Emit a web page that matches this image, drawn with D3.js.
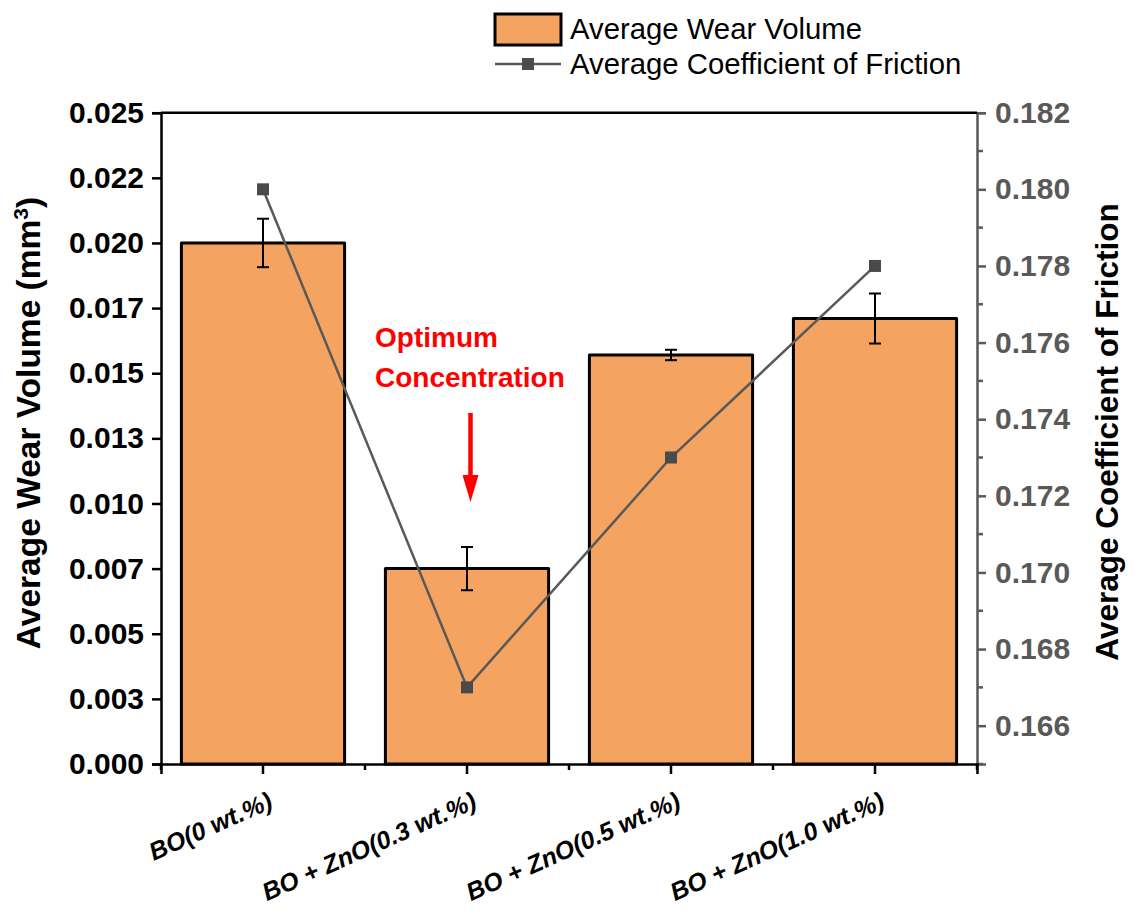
<!DOCTYPE html>
<html>
<head>
<meta charset="utf-8">
<script src="https://cdn.jsdelivr.net/npm/d3@7"></script>
<style>
  html, body { margin: 0; padding: 0; background: #fff; }
  svg { display: block; font-family: "Liberation Sans", Arial, sans-serif; }
</style>
</head>
<body>
<svg id="chart" width="1141" height="914"></svg>
<script>
// Sample groups
const categories = ["BO(0 wt.%)", "BO + ZnO(0.3 wt.%)", "BO + ZnO(0.5 wt.%)", "BO + ZnO(1.0 wt.%)"];
// Average wear volume (mm^3) and its error
const wearVolume = [0.0200, 0.0075, 0.0157, 0.0171];
const wearError  = [0.00093, 0.00083, 0.0002, 0.00096];
// Average coefficient of friction
const friction = [0.180, 0.167, 0.173, 0.178];
// Left axis tick values and their printed labels
const wearTicks = [0, 0.0025, 0.005, 0.0075, 0.01, 0.0125, 0.015, 0.0175, 0.02, 0.0225, 0.025];
const wearTickLabels = ["0.000", "0.003", "0.005", "0.007", "0.010", "0.013", "0.015", "0.017", "0.020", "0.022", "0.025"];
// Right axis ticks
const frictionTicks = [0.166, 0.168, 0.170, 0.172, 0.174, 0.176, 0.178, 0.180, 0.182];
const frictionMinor = [0.165, 0.167, 0.169, 0.171, 0.173, 0.175, 0.177, 0.179, 0.181];

const svg = d3.select("#chart");
const pLeft = 161, pRight = 977, pTop = 112.7, pBottom = 764;
const barFill = "#F4A460", lineColor = "#595959", markColor = "#4a4a4a";

const x = d3.scaleBand().domain(categories).range([pLeft, pRight]).paddingInner(0.2).paddingOuter(0.1);
const yL = d3.scaleLinear().domain([0, 0.025]).range([pBottom, pTop]);
const yR = d3.scaleLinear().domain([0.165, 0.182]).range([pBottom, pTop]);

// Bars
svg.append("g").selectAll("rect").data(categories).join("rect")
  .attr("x", d => x(d)).attr("y", (d, i) => yL(wearVolume[i]))
  .attr("width", x.bandwidth()).attr("height", (d, i) => yL(0) - yL(wearVolume[i]))
  .attr("fill", barFill).attr("stroke", "#000").attr("stroke-width", 3)
  .attr("stroke-linejoin", "round");

// Error bars
const eb = svg.append("g").attr("stroke", "#000").attr("stroke-width", 2);
categories.forEach((c, i) => {
  const cx = x(c) + x.bandwidth() / 2;
  const y1 = yL(wearVolume[i] + wearError[i]), y2 = yL(wearVolume[i] - wearError[i]);
  eb.append("line").attr("x1", cx).attr("x2", cx).attr("y1", y1).attr("y2", y2);
  eb.append("line").attr("x1", cx - 6).attr("x2", cx + 6).attr("y1", y1).attr("y2", y1);
  eb.append("line").attr("x1", cx - 6).attr("x2", cx + 6).attr("y1", y2).attr("y2", y2);
});

// Friction line and markers
const pts = categories.map((c, i) => [x(c) + x.bandwidth() / 2, yR(friction[i])]);
svg.append("path").attr("d", d3.line()(pts)).attr("fill", "none")
  .attr("stroke", lineColor).attr("stroke-width", 2.5);
svg.append("g").selectAll("rect").data(pts).join("rect")
  .attr("x", d => d[0] - 6).attr("y", d => d[1] - 6).attr("width", 12).attr("height", 12)
  .attr("fill", markColor);

// Left axis
const gL = svg.append("g").attr("transform", `translate(${pLeft},0)`)
  .call(d3.axisLeft(yL).tickValues(wearTicks).tickFormat((d, i) => wearTickLabels[i]).tickSize(9).tickPadding(8));
gL.select(".domain").attr("stroke", "#000").attr("stroke-width", 2.5);
gL.selectAll(".tick line").attr("stroke", "#000").attr("stroke-width", 2.5);
gL.selectAll(".tick text").attr("fill", "#000").style("font-size", "30px").style("font-weight", "bold");

// Right axis
const gR = svg.append("g").attr("transform", `translate(${pRight},0)`)
  .call(d3.axisRight(yR).tickValues(frictionTicks).tickFormat(d3.format(".3f")).tickSize(9).tickPadding(9));
gR.select(".domain").attr("stroke", lineColor).attr("stroke-width", 2.5);
gR.selectAll(".tick line").attr("stroke", lineColor).attr("stroke-width", 2.5);
gR.selectAll(".tick text").attr("fill", lineColor).style("font-size", "30px").style("font-weight", "bold");
gR.append("g").selectAll("line").data(frictionMinor).join("line")
  .attr("x1", 0).attr("x2", 6).attr("y1", d => yR(d)).attr("y2", d => yR(d))
  .attr("stroke", lineColor).attr("stroke-width", 2.5);

// Top frame
svg.append("line").attr("x1", pLeft).attr("x2", pRight).attr("y1", pTop).attr("y2", pTop)
  .attr("stroke", "#000").attr("stroke-width", 2.5);

// Bottom axis
const gB = svg.append("g").attr("transform", `translate(0,${pBottom})`)
  .call(d3.axisBottom(x).tickSize(10).tickFormat(""));
gB.select(".domain").attr("stroke", "#000").attr("stroke-width", 2.5);
gB.selectAll(".tick line").attr("stroke", "#000").attr("stroke-width", 2.5);
const bounds = d3.range(categories.length + 1).map(i => pLeft + i * x.step());
gB.append("g").selectAll("line").data(bounds).join("line")
  .attr("x1", d => d).attr("x2", d => d).attr("y1", 0).attr("y2", 6)
  .attr("stroke", "#000").attr("stroke-width", 2.5);
gB.append("g").selectAll("text").data(categories).join("text")
  .attr("transform", d => `translate(${x(d) + x.bandwidth() / 2 + 4},${27}) rotate(-24)`)
  .attr("text-anchor", "end").attr("dy", "0.71em")
  .style("font-size", "25px").style("font-weight", "bold").style("font-style", "italic")
  .attr("fill", "#000").text(d => d);

// Axis titles
svg.append("text")
  .attr("transform", `translate(40,423) rotate(-90)`)
  .attr("text-anchor", "middle").style("font-size", "33.5px").style("font-weight", "bold")
  .call(t => {
    t.append("tspan").text("Average Wear Volume (mm");
    t.append("tspan").attr("dy", -12).style("font-size", "21px").text("3");
    t.append("tspan").attr("dy", 12).text(")");
  });
svg.append("text")
  .attr("transform", `translate(1118,432) rotate(-90)`)
  .attr("text-anchor", "middle").style("font-size", "31.5px").style("font-weight", "bold")
  .attr("fill", "#000").text("Average Coefficient of Friction");

// Annotation
const ann = svg.append("g").attr("fill", "#ff0000");
ann.append("text").attr("x", 375).attr("y", 347)
  .style("font-size", "28px").style("font-weight", "bold").text("Optimum");
ann.append("text").attr("x", 375).attr("y", 387)
  .style("font-size", "28px").style("font-weight", "bold").text("Concentration");
svg.append("line").attr("x1", 470.5).attr("x2", 470.5).attr("y1", 413).attr("y2", 480)
  .attr("stroke", "#ff0000").attr("stroke-width", 4.5);
svg.append("path").attr("d", "M462.5,475 L478.5,475 L470.5,502 Z").attr("fill", "#ff0000");

// Legend
const lg = svg.append("g");
lg.append("rect").attr("x", 495).attr("y", 14).attr("width", 66).attr("height", 31)
  .attr("fill", barFill).attr("stroke", "#000").attr("stroke-width", 3);
lg.append("text").attr("x", 570).attr("y", 29).attr("dy", "0.35em")
  .style("font-size", "29.3px").attr("fill", "#000").text("Average Wear Volume");
lg.append("line").attr("x1", 495).attr("x2", 561).attr("y1", 64).attr("y2", 64)
  .attr("stroke", lineColor).attr("stroke-width", 2.5);
lg.append("rect").attr("x", 522).attr("y", 58).attr("width", 12).attr("height", 12).attr("fill", markColor);
lg.append("text").attr("x", 570).attr("y", 64).attr("dy", "0.35em")
  .style("font-size", "29.3px").attr("fill", "#000").text("Average Coefficient of Friction");
</script>
</body>
</html>
